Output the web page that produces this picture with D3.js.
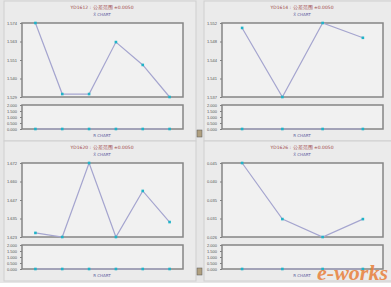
<!DOCTYPE html>
<html>
<head>
<meta charset="utf-8">
<script src="https://cdn.jsdelivr.net/npm/d3@7"></script>
<style>
  body { margin: 0; background: #ffffff; }
  svg { display: block; font-family: "DejaVu Sans", sans-serif; }
  .axis text { font-size: 4px; fill: #555; }
  .axis path, .axis line { stroke: #808080; }
</style>
</head>
<body>
<div id="chart-area"></div>
<script>
// chart values, one list per panel
var titles = ["YD1612 : 公差范围 ±0.0050", "YD1614 : 公差范围 ±0.0050",
              "YD1620 : 公差范围 ±0.0050", "YD1626 : 公差范围 ±0.0050"];
var xbarA = [1.574, 1.5308, 1.5308, 1.5624, 1.5485, 1.529];
var xbarB = [1.551, 1.537, 1.552, 1.549];
var xbarC = [1.6257, 1.623, 1.672, 1.623, 1.6535, 1.6329];
var xbarD = [0.045, 0.0306, 0.026, 0.0306];
var rangeA = [0, 0, 0, 0, 0, 0];
var rangeB = [0, 0, 0, 0];
var rangeC = [0, 0, 0, 0, 0, 0];
var rangeD = [0, 0, 0, 0];
var rTicks = [0, 0.5, 1, 1.5, 2];

var width = 391, height = 287;

var svg = d3.select("#chart-area").append("svg")
	.attr("width", width)
	.attr("height", height)

svg.append("rect")
	.attr("width", width).attr("height", 283)
	.attr("fill", "#e6e6e6")

var panels = [
	{x: 0, y: 0, title: titles[0], xbar: xbarA, range: rangeA},
	{x: 200, y: 0, title: titles[1], xbar: xbarB, range: rangeB},
	{x: 0, y: 140, title: titles[2], xbar: xbarC, range: rangeC},
	{x: 200, y: 140, title: titles[3], xbar: xbarD, range: rangeD}
]

var drawPanel = function(p) {
	var g = svg.append("g")
		.attr("transform", "translate(" + p.x + "," + p.y + ")")

	// panel box
	g.append("rect")
		.attr("x", 4).attr("y", 1)
		.attr("width", 192).attr("height", 140)
		.attr("fill", "#ebebeb")
		.attr("stroke", "#cfcfcf")

	g.append("text")
		.attr("x", 102).attr("y", 9)
		.attr("text-anchor", "middle")
		.attr("font-size", 4.5)
		.attr("fill", "#a04848")
		.text(p.title)

	g.append("text")
		.attr("x", 102).attr("y", 16)
		.attr("text-anchor", "middle")
		.attr("font-size", 4)
		.attr("fill", "#6060a0")
		.text("X̄ CHART")

	var idx = d3.range(p.xbar.length)

	var xScale = d3.scalePoint()
		.domain(idx)
		.range([22, 183])
		.padding(0.5)

	var lo = d3.min(p.xbar), hi = d3.max(p.xbar)
	var yScale = d3.scaleLinear()
		.domain([lo, hi])
		.range([97, 23])

	var rScale = d3.scaleLinear()
		.domain([0, 2])
		.range([129, 105])

	// plot backgrounds
	g.append("rect")
		.attr("x", 22).attr("y", 23)
		.attr("width", 161).attr("height", 74)
		.attr("fill", "#f1f1f1")
		.attr("stroke", "#858585").attr("stroke-width", 1.5)

	g.append("rect")
		.attr("x", 22).attr("y", 105)
		.attr("width", 161).attr("height", 24)
		.attr("fill", "#f1f1f1")
		.attr("stroke", "#858585").attr("stroke-width", 1.5)

	var yTicks = d3.range(5).map(i => lo + (hi - lo) * i / 4)

	g.append("g")
		.attr("class", "axis")
		.attr("transform", "translate(22,0)")
		.call(d3.axisLeft(yScale).tickValues(yTicks).tickSize(2).tickFormat(d3.format(".3f")))
		.call(a => a.select(".domain").remove())

	g.append("g")
		.attr("class", "axis")
		.attr("transform", "translate(22,0)")
		.call(d3.axisLeft(rScale).tickValues(rTicks).tickSize(2).tickFormat(d3.format(".3f")))
		.call(a => a.select(".domain").remove())

	var line = d3.line()
		.x((d, i) => xScale(i))
		.y(d => yScale(d))

	g.append("path")
		.datum(p.xbar)
		.attr("d", line)
		.attr("fill", "none")
		.attr("stroke", "#a5a5cf")
		.attr("stroke-width", 1.2)

	g.selectAll(".pt")
		.data(p.xbar)
		.enter()
		.append("rect")
		.attr("class", "pt")
		.attr("x", (d, i) => xScale(i) - 1.3)
		.attr("y", d => yScale(d) - 1.3)
		.attr("width", 2.6).attr("height", 2.6)
		.attr("fill", "#1fb3c8")

	var rline = d3.line()
		.x((d, i) => xScale(i))
		.y(d => rScale(d))

	g.append("path")
		.datum(p.range)
		.attr("d", rline)
		.attr("fill", "none")
		.attr("stroke", "#a5a5cf")
		.attr("stroke-width", 1.2)

	g.selectAll(".rpt")
		.data(p.range)
		.enter()
		.append("rect")
		.attr("class", "rpt")
		.attr("x", (d, i) => xScale(i) - 1.3)
		.attr("y", d => rScale(d) - 1.3)
		.attr("width", 2.6).attr("height", 2.6)
		.attr("fill", "#1fb3c8")

	g.append("text")
		.attr("x", 102).attr("y", 137)
		.attr("text-anchor", "middle")
		.attr("font-size", 4)
		.attr("fill", "#6060a0")
		.text("R CHART")
}

panels.forEach(drawPanel)

// small print icons
svg.append("rect").attr("x", 197).attr("y", 130).attr("width", 5).attr("height", 7)
	.attr("fill", "#b0a080").attr("stroke", "#555").attr("stroke-width", 0.5)
svg.append("rect").attr("x", 197).attr("y", 268).attr("width", 5).attr("height", 7)
	.attr("fill", "#b0a080").attr("stroke", "#555").attr("stroke-width", 0.5)

// watermark
svg.append("text")
	.attr("x", 388).attr("y", 280)
	.attr("text-anchor", "end")
	.attr("font-size", 22)
	.attr("font-style", "italic")
	.attr("font-weight", "bold")
	.attr("font-family", "Liberation Serif, serif")
	.attr("fill", "#e8803a")
	.attr("opacity", 0.85)
	.text("e-works")
</script>
</body>
</html>
